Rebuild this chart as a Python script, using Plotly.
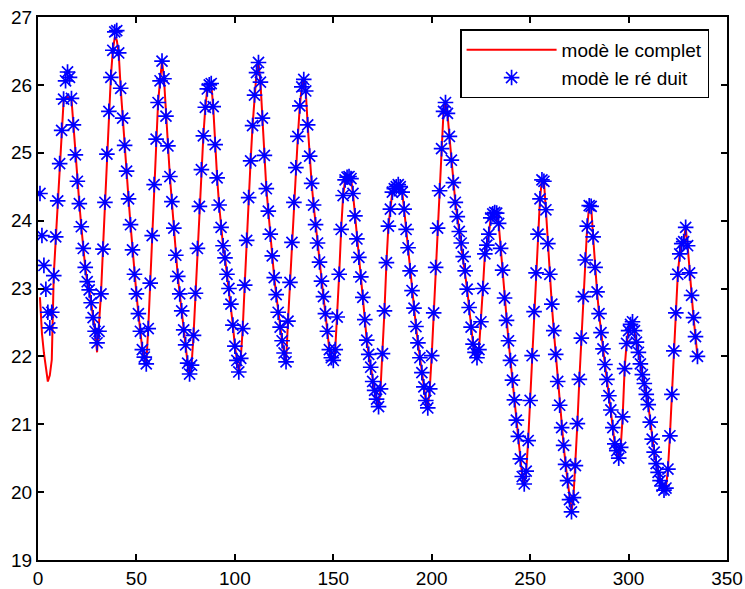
import plotly.graph_objects as go

# time index (hours)
heures = list(range(1, 336))

# complete model (red line)
complet = [
    22.87, 22.34, 22.05, 21.82, 21.63, 21.72, 21.95, 23.20, 23.74, 24.30, 24.84, 25.33, 25.76, 25.80, 25.82, 25.81, 25.79,
    25.41, 24.97, 24.58, 24.25, 23.91, 23.59, 23.31, 23.10, 22.98, 22.79, 22.57, 22.37, 22.06,
    22.45, 22.92, 23.58, 24.27, 24.98, 25.61, 26.11, 26.51, 26.70, 26.66,
    26.47, 25.95, 25.51, 25.11, 24.73, 24.32, 23.94, 23.57, 23.21, 22.92, 22.63, 22.37, 22.10, 21.99, 21.89,
    22.41, 23.08, 23.78, 24.53, 25.20, 25.74, 26.06, 26.35,
    26.09, 25.54, 25.10, 24.65, 24.28, 23.89, 23.49, 23.18, 22.92, 22.67, 22.39, 22.17, 21.90, 21.74,
    21.87, 22.31, 22.93, 23.59, 24.21, 24.75, 25.25, 25.67, 25.94, 26.00, 26.02,
    25.68, 25.12, 24.63, 24.23, 23.90, 23.63, 23.45, 23.21, 23.00, 22.77, 22.46, 22.15, 21.94, 21.77,
    21.97, 22.41, 23.05, 23.71, 24.34, 24.88, 25.40, 25.85, 26.18, 26.33,
    26.04, 25.51, 24.96, 24.47, 24.14, 23.80, 23.48, 23.16, 22.91, 22.65, 22.43, 22.23, 22.05, 21.92,
    22.52, 23.09, 23.68, 24.27, 24.78, 25.24, 25.69, 25.97, 26.08,
    25.91, 25.41, 24.95, 24.55, 24.23, 23.94, 23.67, 23.39, 23.11, 22.88, 22.63, 22.37, 22.10, 21.98, 21.94,
    22.10, 22.58, 23.21, 23.87, 24.37, 24.60, 24.64, 24.65, 24.62, 24.40,
    24.07, 23.73, 23.46, 23.17, 22.87, 22.54, 22.24, 22.03, 21.84, 21.63, 21.50, 21.37, 21.26,
    21.52, 22.04, 22.67, 23.38, 23.92, 24.17, 24.42, 24.47, 24.50, 24.53, 24.50, 24.42, 24.17,
    23.87, 23.60, 23.26, 22.97, 22.71, 22.44, 22.20, 21.98, 21.76, 21.55, 21.35, 21.24,
    21.52, 22.01, 22.64, 23.31, 23.89, 24.44, 25.06, 25.61, 25.74,
    25.58, 25.24, 24.89, 24.56, 24.27, 24.06, 23.84, 23.67, 23.47, 23.26, 22.99, 22.72, 22.43, 22.18, 22.06, 21.98,
    22.10, 22.51, 23.00, 23.51, 23.64, 23.80, 24.04, 24.10, 24.12, 24.11,
    23.96, 23.59, 23.27, 22.86, 22.53, 22.23, 21.94, 21.65, 21.36, 21.06, 20.82, 20.49, 20.23, 20.12,
    20.31, 20.76, 21.35, 22.01, 22.66, 23.23, 23.80, 24.32, 24.60, 24.58,
    24.16, 23.66, 23.21, 22.77, 22.38, 22.03, 21.63, 21.28, 20.95, 20.69, 20.41, 20.17, 19.89, 19.71,
    19.92, 20.39, 21.01, 21.66, 22.27, 22.88, 23.42, 23.92, 24.22, 24.21,
    23.76, 23.31, 22.95, 22.63, 22.35, 22.11, 21.88, 21.66, 21.42, 21.21, 20.95, 20.71, 20.61, 20.50,
    20.66, 21.11, 21.82, 22.19, 22.38, 22.47, 22.51,
    22.38, 22.21, 22.06, 21.89, 21.73, 21.60, 21.44, 21.29, 21.03, 20.78, 20.59, 20.42, 20.29, 20.17, 20.09, 20.03,
    20.06, 20.34, 20.83, 21.44, 22.08, 22.64, 23.21, 23.51, 23.66, 23.69, 23.90,
    23.63, 23.23, 22.90, 22.57, 22.29, 22.00,
]

# reduced model (blue stars): differs from the complete model over the first 40 hours
reduit_debut = [
    24.40, 23.78, 23.34, 22.99, 22.65, 22.42, 22.65, 23.19, 23.76, 24.29, 24.84, 25.33, 25.79, 26.06, 26.19, 26.11, 25.80,
    25.41, 24.97, 24.58, 24.25, 23.91, 23.59, 23.31, 23.10, 22.98, 22.79, 22.57, 22.37, 22.20,
    22.37, 22.92, 23.58, 24.27, 24.98, 25.61, 26.11, 26.51, 26.78, 26.80,
]
reduit = reduit_debut + complet[len(reduit_debut):]

noms = ["modè le complet", "modè le ré duit"]
x_ticks = [0, 50, 100, 150, 200, 250, 300, 350]
y_ticks = [19, 20, 21, 22, 23, 24, 25, 26, 27]

FONT = "Liberation Sans, Arial, Helvetica, sans-serif"

fig = go.Figure()
fig.add_trace(go.Scatter(
    x=heures, y=complet, mode="lines", name=noms[0],
    line=dict(color="#ff0000", width=2),
))
fig.add_trace(go.Scatter(
    x=heures, y=reduit, mode="markers", name=noms[1],
    marker=dict(symbol="asterisk-open", size=13, color="#0000ff",
                line=dict(color="#0000ff", width=1.7)),
))

axis_common = dict(
    showline=True, linecolor="black", linewidth=2, mirror="ticks",
    ticks="inside", ticklen=6, tickwidth=1.5, tickcolor="black",
    showgrid=False, zeroline=False, automargin=False,
    tickfont=dict(family=FONT, size=19, color="black"),
)

fig.update_layout(
    width=745, height=589,
    margin=dict(l=38, r=18, t=17, b=29, autoexpand=False),
    paper_bgcolor="white", plot_bgcolor="white",
    font=dict(family=FONT, size=19, color="black"),
    xaxis=dict(range=[0, 350], tickvals=x_ticks, **axis_common),
    yaxis=dict(range=[19, 27], tickvals=y_ticks, **axis_common),
    showlegend=True,
    legend=dict(
        x=0.974, y=0.977, xanchor="right", yanchor="top",
        bgcolor="white", bordercolor="black", borderwidth=1.5,
        font=dict(family=FONT, size=19, color="black"),
        itemwidth=90, tracegroupgap=0,
    ),
)

fig.write_html(
    "out.html",
    config={"displayModeBar": False},
    post_script="document.body.style.margin='0';document.body.style.overflow='hidden';",
)
